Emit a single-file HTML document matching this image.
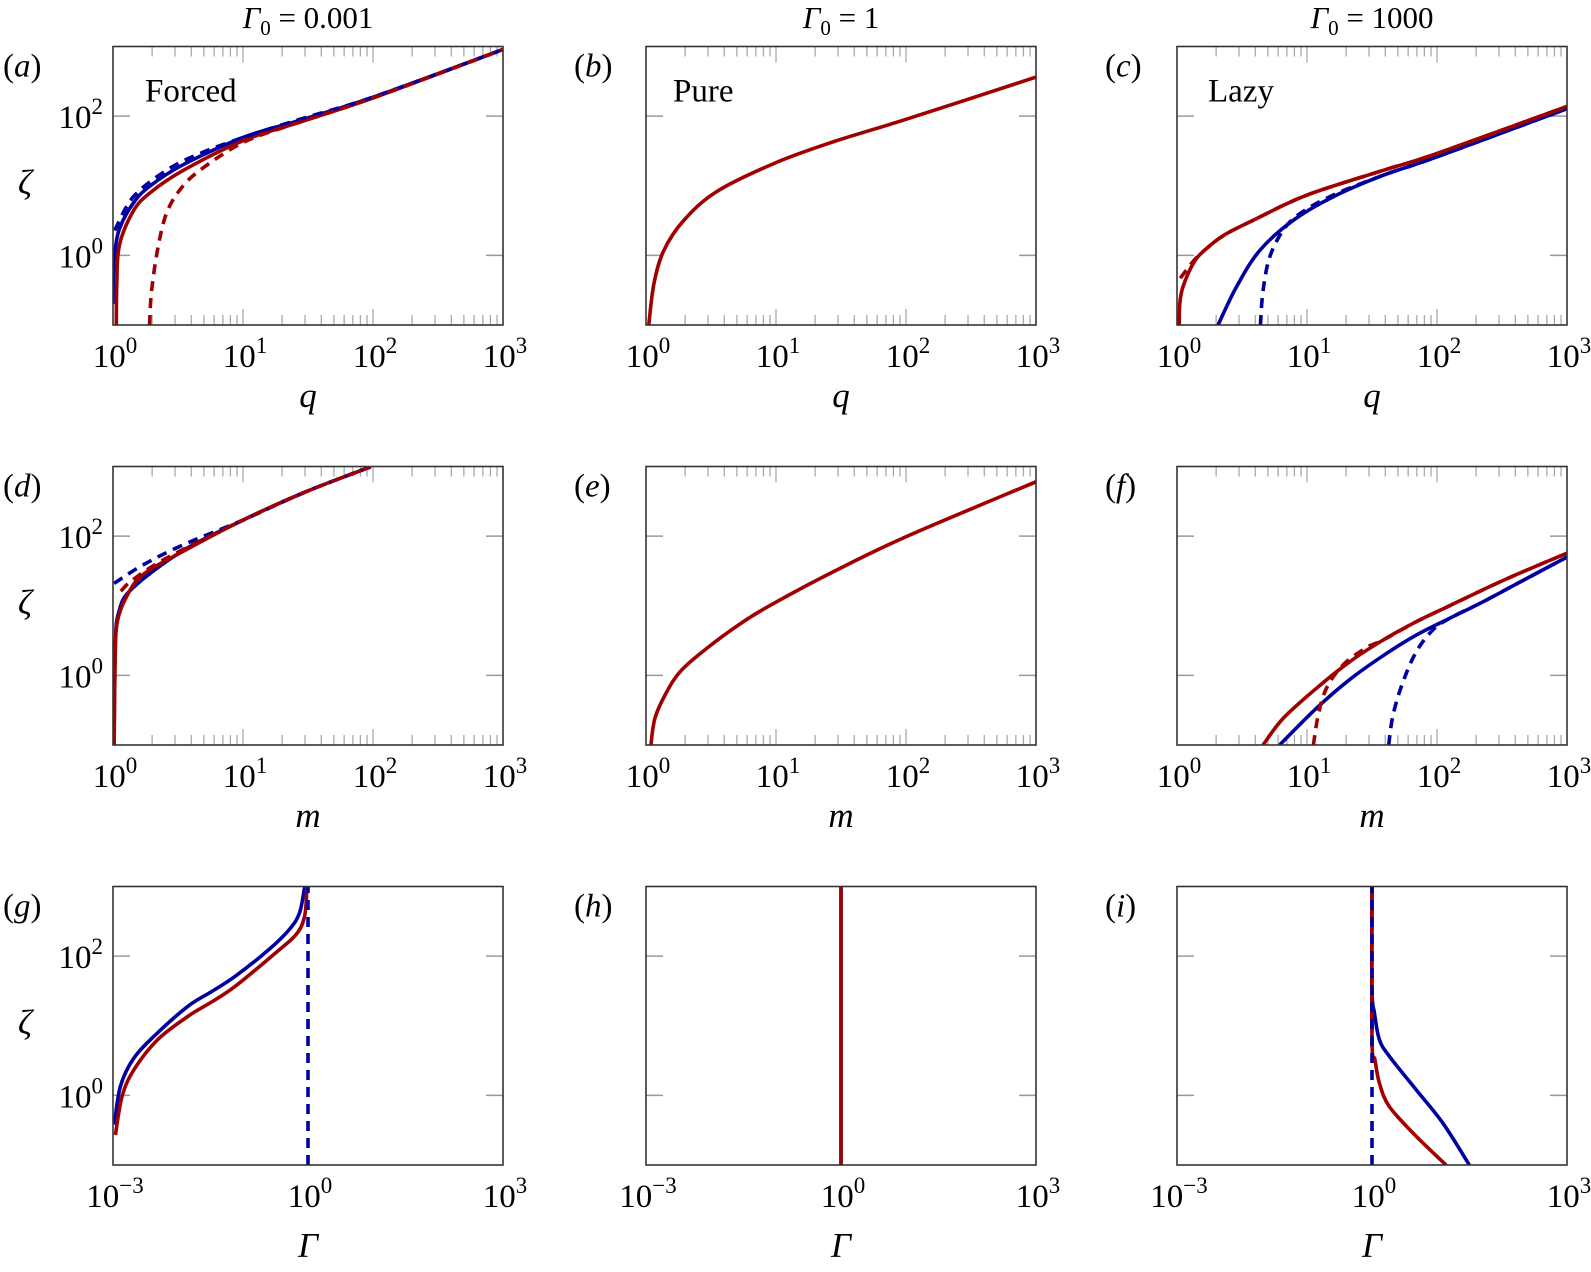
<!DOCTYPE html>
<html><head><meta charset="utf-8">
<style>
html,body{margin:0;padding:0;background:#fff;}
svg{display:block;font-family:"Liberation Serif",serif;}
</style></head>
<body>
<svg id="fig" width="1591" height="1272" viewBox="0 0 1591 1272" xmlns="http://www.w3.org/2000/svg"></svg>
<script>
// ---- data ----
// panel a: zeta vs q, Gamma0 = 0.001
const aRedSolidX = [1.06,1.07,1.12,1.43,1.91,3.45,10.2,27.3,102,1000];
const aRedSolidY = [0.1,0.4,1.4,4.3,7.8,16.5,45,82,185,906];
const aBlueSolidX = [1.0,1.01,1.03,1.12,1.43,1.91,3.45,10.2,27.3,102,1000];
const aBlueSolidY = [0.2,0.54,1.05,2.4,5.6,9.8,20,50,87,189,906];
const aBlueDashX = [1.03,1.43,2.57,4.64,10.2,27.3,102,1000];
const aBlueDashY = [2.28,6.9,16.6,28.9,50,90,190,906];
const aRedDashX = [1.91,1.98,2.22,2.57,3.25,4.64,10.2,27.3,102,1000];
const aRedDashY = [0.1,0.31,1.31,3.95,8.6,16.6,42.5,82,185,906];
// panel b
const bRedSolidX = [1.05,1.15,1.37,1.95,3.52,10,27.8,100,1000];
const bRedSolidY = [0.1,0.39,1.17,3.17,8.3,21.5,43,90,363];
// panel c
const cRedSolidX = [1.04,1.05,1.11,1.33,1.6,2.3,4,9.9,38.4,99,1000];
const cRedSolidY = [0.1,0.2,0.35,0.76,1.15,1.95,3.3,7.3,16.6,28.9,138];
const cRedDashX = [1.06,1.33,1.6,2.3,4,9.9,38.4,99,1000];
const cRedDashY = [0.47,0.82,1.15,1.95,3.3,7.3,16.6,28.9,138];
const cBlueSolidX = [2.07,2.86,4.32,7.8,15.8,38.4,99,1000];
const cBlueSolidY = [0.1,0.35,1.17,3.17,6.9,14.1,25.8,128];
const cBlueDashX = [4.38,4.59,5.16,6.54,8.78,15.8,38.4,99,1000];
const cBlueDashY = [0.1,0.31,0.94,2.28,3.95,7.3,14.1,25.8,128];
// panel d: zeta vs m
const dBlueSolidX = [1.02,1.04,1.11,1.41,3.41,10,30.4,96];
const dBlueSolidY = [0.1,2.6,8.2,17.8,61,170,433,990];
const dRedSolidX = [1.02,1.04,1.08,1.25,1.68,3.41,10,30.4,96];
const dRedSolidY = [0.1,1.96,5.9,12.7,27.5,59.6,170,433,990];
const dBlueDashX = [1.02,1.68,3.41,10,30.4,96];
const dBlueDashY = [20.9,38,74,170,433,990];
const dRedDashX = [1.15,1.41,2.54,10,30.4,96];
const dRedDashY = [16.2,23.3,47.6,170,433,990];
// panel e
const eRedSolidX = [1.09,1.17,1.4,1.83,2.93,5.6,10.1,27.6,100,1000];
const eRedSolidY = [0.1,0.24,0.52,1.13,2.44,5.9,11.4,30.8,98,603];
// panel f
const fRedSolidX = [4.59,6.54,11.8,21.3,38.4,69.3,125,226,407,1000];
const fRedSolidY = [0.1,0.24,0.65,1.57,3.21,5.9,10,17,28,57];
const fBlueSolidX = [6.16,11.8,21.3,38.4,69.3,125,226,407,1000];
const fBlueSolidY = [0.1,0.336,0.87,1.91,3.79,6.6,11.4,20.5,50];
const fRedDashX = [11.2,12.2,14.1,18.9,28.6,38.4,69.3,125,226,407,1000];
const fRedDashY = [0.1,0.27,0.65,1.41,2.5,3.21,5.9,10,17,28,57];
const fBlueDashX = [42.5,45.9,54.8,69.3,93,125,226,407,1000];
const fBlueDashY = [0.1,0.27,0.81,2.19,4.5,6.6,11.4,20.5,50];
// panel g: zeta vs Gamma
const gBlueSolidX = [0.00105,0.0013,0.0021,0.00485,0.0143,0.033,0.0762,0.252,0.518,0.741,0.887,0.93];
const gBlueSolidY = [0.38,1.35,3.44,7.9,19.1,31,51.5,125,242,418,960,1000];
const gRedSolidX = [0.00109,0.00138,0.0021,0.00485,0.0143,0.033,0.0762,0.32,0.658,0.887,0.966];
const gRedSolidY = [0.27,0.97,2.34,6.3,13.7,22,37,112,205,376,1000];
const gBlueDashX = [1,1];
const gBlueDashY = [0.1,1000];
// panel h
const hBlueSolidX = [1,1];
const hBlueSolidY = [0.1,1000];
const hRedSolidX = [1,1];
const hRedSolidY = [0.1,1000];
// panel i
const iRedSolidX = [1,1,1.11,1.3,1.85,4.76,13.8];
const iRedSolidY = [1000,6.3,3.26,1.5,0.69,0.26,0.1];
const iBlueSolidX = [1,1,1.09,1.3,1.85,4.76,12.3,31.5];
const iBlueSolidY = [1000,33,15.3,6.3,3.64,1.21,0.4,0.1];
const iRedDashX = [1,1];
const iRedDashY = [1000,5];
const iBlueDashX = [1,1];
const iBlueDashY = [0.1,1000];
// tick labels
const xTickExpQ = [0,1,2,3];
const xTickExpG = [-3,0,3];
const yTickExp = [0,2];
const colTitles = ["0.001","1","1000"];
const panelLetters = ["a","b","c","d","e","f","g","h","i"];

// ---- layout ----
const NS = "http://www.w3.org/2000/svg";
const svg = document.getElementById("fig");
const colLeft = [113, 646, 1177];
const rowTop = [46.5, 466.5, 886.5];
const W = 390, H = 278.5;
const RED = "#a00000", BLUE = "#0000a0";

function el(tag, attrs, parent) {
  const e = document.createElementNS(NS, tag);
  for (const k in attrs) e.setAttribute(k, attrs[k]);
  (parent || svg).appendChild(e);
  return e;
}
function powText(parent, x, y, exp, anchor, name) {
  const t = el("text", {x: x, y: y, "font-size": 33, "text-anchor": anchor, fill: "#000"}, parent);
  
  
  t.appendChild(document.createTextNode("10"));
  const s = el("tspan", {dy: -14, "font-size": 23}, t);
  s.textContent = exp < 0 ? "\u2212" + (-exp) : String(exp);
  return t;
}

const panels = [
  {row:0,col:0,xlo:0,xhi:3,xl:"q",label:"Forced",series:[
    [aBlueSolidX,aBlueSolidY,BLUE,false],[aRedSolidX,aRedSolidY,RED,false],
    [aBlueDashX,aBlueDashY,BLUE,true],[aRedDashX,aRedDashY,RED,true]]},
  {row:0,col:1,xlo:0,xhi:3,xl:"q",label:"Pure",series:[[bRedSolidX,bRedSolidY,RED,false]]},
  {row:0,col:2,xlo:0,xhi:3,xl:"q",label:"Lazy",series:[
    [cBlueSolidX,cBlueSolidY,BLUE,false],[cBlueDashX,cBlueDashY,BLUE,true],
    [cRedSolidX,cRedSolidY,RED,false],[cRedDashX,cRedDashY,RED,true]]},
  {row:1,col:0,xlo:0,xhi:3,xl:"m",series:[
    [dBlueSolidX,dBlueSolidY,BLUE,false],[dRedSolidX,dRedSolidY,RED,false],
    [dBlueDashX,dBlueDashY,BLUE,true],[dRedDashX,dRedDashY,RED,true]]},
  {row:1,col:1,xlo:0,xhi:3,xl:"m",series:[[eRedSolidX,eRedSolidY,RED,false]]},
  {row:1,col:2,xlo:0,xhi:3,xl:"m",series:[
    [fBlueSolidX,fBlueSolidY,BLUE,false],[fRedSolidX,fRedSolidY,RED,false],
    [fBlueDashX,fBlueDashY,BLUE,true],[fRedDashX,fRedDashY,RED,true]]},
  {row:2,col:0,xlo:-3,xhi:3,xl:"\u0393",series:[
    [gBlueSolidX,gBlueSolidY,BLUE,false],[gRedSolidX,gRedSolidY,RED,false],[gBlueDashX,gBlueDashY,BLUE,true]]},
  {row:2,col:1,xlo:-3,xhi:3,xl:"\u0393",series:[
    [hBlueSolidX,hBlueSolidY,BLUE,false],[hRedSolidX,hRedSolidY,RED,false]]},
  {row:2,col:2,xlo:-3,xhi:3,xl:"\u0393",series:[
    [iBlueSolidX,iBlueSolidY,BLUE,false],[iRedSolidX,iRedSolidY,RED,false],
    [iRedDashX,iRedDashY,RED,true],[iBlueDashX,iBlueDashY,BLUE,true]]}
];

colTitles.forEach((v, c) => {
  const t = el("text", {x: colLeft[c] + W/2, y: 28, "font-size": 31, "text-anchor": "middle"});
  
  
  const g = el("tspan", {"font-style": "italic"}, t); g.textContent = "\u0393";
  const s = el("tspan", {dy: 7, "font-size": 21}, t); s.textContent = "0";
  const r = el("tspan", {dy: -7}, t); r.textContent = " = " + v;
});

function smoothPath(pts) {
  if (pts.length < 3) return "M" + pts.map(p => p[0].toFixed(2) + "," + p[1].toFixed(2)).join("L");
  let d = "M" + pts[0][0].toFixed(2) + "," + pts[0][1].toFixed(2);
  for (let i = 0; i < pts.length - 1; i++) {
    const p0 = pts[i-1] || pts[i], p1 = pts[i], p2 = pts[i+1], p3 = pts[i+2] || p2;
    const c1 = [p1[0] + (p2[0]-p0[0])/6, p1[1] + (p2[1]-p0[1])/6];
    const c2 = [p2[0] - (p3[0]-p1[0])/6, p2[1] - (p3[1]-p1[1])/6];
    d += "C" + c1[0].toFixed(2) + "," + c1[1].toFixed(2) + " " + c2[0].toFixed(2) + "," + c2[1].toFixed(2) + " " + p2[0].toFixed(2) + "," + p2[1].toFixed(2);
  }
  return d;
}

panels.forEach((p, idx) => {
  const L = colLeft[p.col], T = rowTop[p.row], B = T + H, R = L + W;
  const g = el("g", {});
  
  
  const xs = v => L + (Math.log10(v) - p.xlo) / (p.xhi - p.xlo) * W;
  const ys = v => B - (Math.log10(v) + 1) / 4 * H;

  const cp = el("clipPath", {id: "clip" + idx}, g);
  el("rect", {x: L, y: T, width: W, height: H}, cp);

  if (p.row < 2) {
    for (let e = p.xlo; e < p.xhi; e++) {
      for (let k = 1; k <= 9; k++) {
        const x = xs(k * Math.pow(10, e));
        const len = k === 1 ? 16 : 10;
        if (k === 1 && e === p.xlo) continue;
        const t1 = el("line", {x1: x, x2: x, y1: T, y2: T + len, stroke: "#aaa", "stroke-width": 1.3}, g);
        
        
        const t2 = el("line", {x1: x, x2: x, y1: B, y2: B - len, stroke: "#aaa", "stroke-width": 1.3}, g);
        
        
      }
    }
  }
  yTickExp.forEach(e => {
    const y = ys(Math.pow(10, e));
    const a = el("line", {x1: L, x2: L + 17, y1: y, y2: y, stroke: "#999", "stroke-width": 1.4}, g);
    
    
    const b = el("line", {x1: R, x2: R - 17, y1: y, y2: y, stroke: "#999", "stroke-width": 1.4}, g);
    
    
    if (p.col === 0) powText(g, L - 10, y + 12, e, "end", "y-tick-label");
  });
  const xt = p.row < 2 ? xTickExpQ : xTickExpG;
  xt.forEach(e => powText(g, xs(Math.pow(10, e)) + 2, B + 42, e, "middle", "x-tick-label"));

  const sg = el("g", {"clip-path": "url(#clip" + idx + ")"}, g);
  p.series.forEach((s) => {
    const pts = s[0].map((v, i) => [xs(v), ys(s[1][i])]);
    const path = el("path", {d: smoothPath(pts), fill: "none", stroke: s[2], "stroke-width": 3.6,
      "stroke-linejoin": "round", "stroke-dasharray": s[3] ? "10 7" : "none"}, sg);
    
    
  });

  const fr = el("rect", {x: L, y: T, width: W, height: H, fill: "none", stroke: "#333", "stroke-width": 1.6}, g);
  
  

  const pl = el("text", {x: p.col === 0 ? L - 110 : L - 72, y: T + 30, "font-size": 33}, g);
  
  
  pl.appendChild(document.createTextNode("("));
  const li = el("tspan", {"font-style": "italic"}, pl); li.textContent = panelLetters[idx];
  pl.appendChild(document.createTextNode(")"));

  const xl = el("text", {x: L + W/2, y: B + (p.row === 2 ? 92 : 82), "font-size": 35, "font-style": "italic", "text-anchor": "middle"}, g);
  
  
  xl.textContent = p.xl;

  if (p.col === 0) {
    const yl = el("text", {x: 25, y: T + H/2 + 8, "font-size": 35, "font-style": "italic", "text-anchor": "middle"}, g);
    
    
    yl.textContent = "\u03B6";
  }
  if (p.label) {
    const rl = el("text", {x: L + (p.col === 0 ? 32 : p.col === 1 ? 27 : 31), y: T + 55, "font-size": 33}, g);
    
    
    rl.textContent = p.label;
  }
});
</script>
</body></html>
